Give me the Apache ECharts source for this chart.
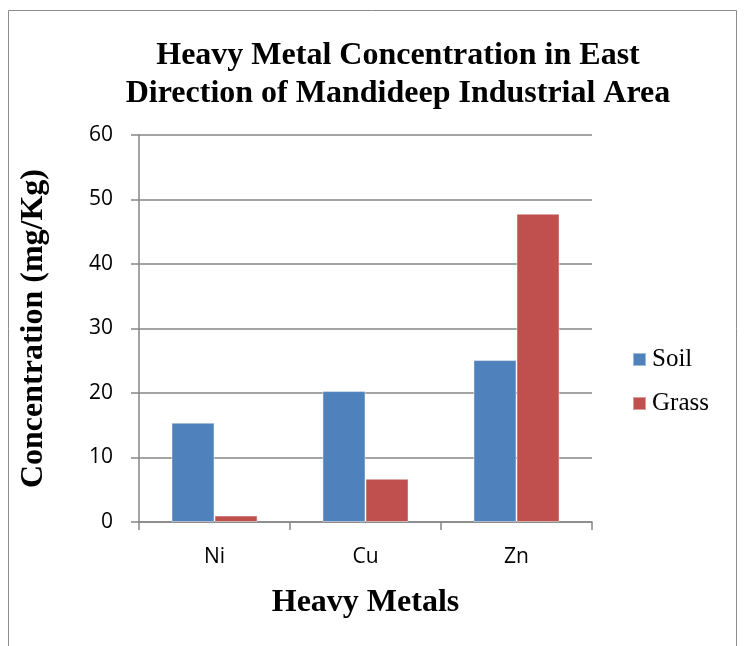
<!DOCTYPE html>
<html>
<head>
<meta charset="utf-8">
<script src="https://cdn.jsdelivr.net/npm/echarts@6/dist/echarts.min.js"></script>
<style>
  html, body { margin: 0; padding: 0; background: #fff; }
  #chart { width: 744px; height: 646px; }
</style>
</head>
<body>
<div id="chart"></div>
<script>
// Heavy metal concentrations (mg/Kg), east direction of Mandideep industrial area
const metals = ['Ni', 'Cu', 'Zn'];
const soil = [15.4, 20.3, 25.1];
const grass = [1.0, 6.7, 47.8];
const yTicks = { min: 0, max: 60, interval: 10 };

const serif = '"Liberation Serif", "Times New Roman", serif';
const sans = '"Open Sans", "Noto Sans", sans-serif';
const axisGray = '#868686';

const chart = echarts.init(document.getElementById('chart'));
chart.setOption({
  backgroundColor: '#fff',
  animation: false,
  title: {
    text: 'Heavy Metal Concentration in East\nDirection of Mandideep Industrial Area',
    left: 393,
    top: 32,
    textAlign: 'center',
    textStyle: {
      fontFamily: serif,
      fontWeight: 'bold',
      fontSize: 32,
      lineHeight: 38,
      color: '#000'
    }
  },
  graphic: [{
    type: 'rect',
    shape: { x: 8.5, y: 10.5, width: 728, height: 650 },
    style: { fill: 'none', stroke: '#8c8c8c', lineWidth: 1 },
    silent: true
  }],
  legend: {
    orient: 'vertical',
    left: 627,
    top: 342,
    itemWidth: 13,
    itemHeight: 13,
    itemGap: 19,
    icon: 'rect',
    data: ['Soil', 'Grass'],
    textStyle: { fontFamily: serif, fontSize: 25, color: '#000', padding: [0, 0, 0, 1] }
  },
  grid: { left: 139, right: 152, top: 135, bottom: 124 },
  xAxis: {
    type: 'category',
    data: metals,
    name: 'Heavy Metals',
    nameLocation: 'middle',
    nameGap: 65,
    nameTextStyle: { fontFamily: serif, fontWeight: 'bold', fontSize: 32, color: '#000' },
    axisLine: { lineStyle: { color: axisGray, width: 1.5 } },
    axisTick: { show: true, length: 8, lineStyle: { color: axisGray, width: 1.5 } },
    axisLabel: { fontFamily: sans, fontSize: 21, color: '#000', margin: 25 },
    splitLine: { show: false }
  },
  yAxis: {
    type: 'value',
    min: yTicks.min,
    max: yTicks.max,
    interval: yTicks.interval,
    name: 'Concentration (mg/Kg)',
    nameLocation: 'middle',
    nameGap: 89,
    nameRotate: 90,
    nameTextStyle: { fontFamily: serif, fontWeight: 'bold', fontSize: 32, color: '#000' },
    axisLine: { show: true, lineStyle: { color: axisGray, width: 1.5 } },
    axisTick: { show: true, length: 8, lineStyle: { color: axisGray, width: 1.5 } },
    axisLabel: { fontFamily: sans, fontSize: 21, color: '#000', margin: 26 },
    splitLine: { show: true, lineStyle: { color: axisGray, width: 1.5 } }
  },
  series: [
    {
      name: 'Soil',
      type: 'bar',
      data: soil,
      barGap: '0%',
      barCategoryGap: '43%',
      itemStyle: { color: '#4F81BD', borderColor: 'rgba(255,255,255,0.45)', borderWidth: 1 }
    },
    {
      name: 'Grass',
      type: 'bar',
      data: grass,
      barGap: '0%',
      barCategoryGap: '43%',
      itemStyle: { color: '#C0504D', borderColor: 'rgba(255,255,255,0.45)', borderWidth: 1 }
    }
  ]
});
</script>
</body>
</html>
